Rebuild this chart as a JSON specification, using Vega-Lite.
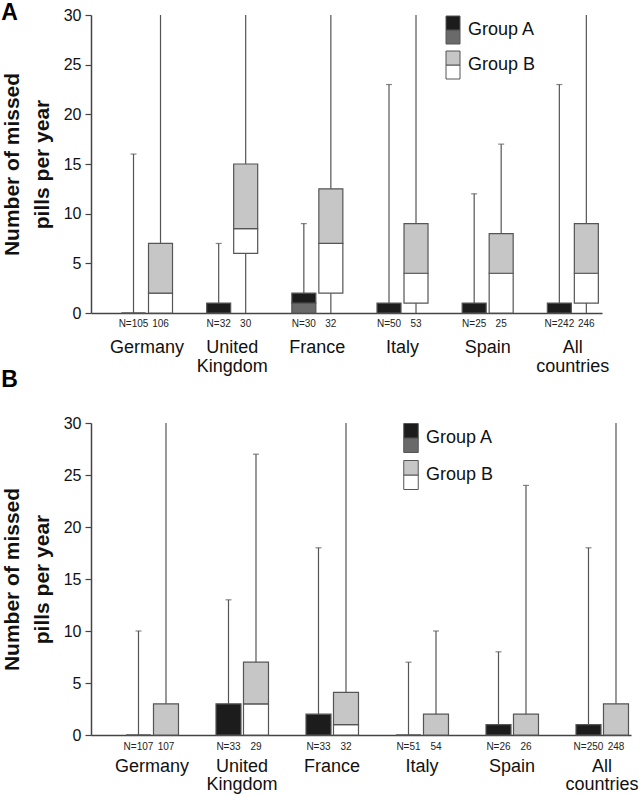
{
  "$schema": "https://vega.github.io/schema/vega-lite/v6.json",
  "background": "white",
  "padding": {"left": 1, "top": 2, "right": 4, "bottom": 0},
  "spacing": -6,
  "config": {
    "font": "Liberation Sans",
    "view": {"stroke": null},
    "axis": {"grid": false, "labelColor": "#111", "titleColor": "#111", "domainColor": "#444", "domainWidth": 1.5, "tickColor": "#444", "tickWidth": 1.2},
    "legend": {"labelColor": "#111", "labelFont": "Liberation Sans"}
  },
  "datasets": {
    "pa": [
      {"country": "Germany", "group": "Group A", "lo": 0, "q1": 0, "median": 0, "q3": 0, "max": 16, "nlab": "N=105"},
      {"country": "Germany", "group": "Group B", "lo": 0, "q1": 0, "median": 2, "q3": 7, "max": 30, "nlab": "106"},
      {"country": "United Kingdom", "group": "Group A", "lo": 0, "q1": 0, "median": 0, "q3": 1, "max": 7, "nlab": "N=32"},
      {"country": "United Kingdom", "group": "Group B", "lo": 0, "q1": 6, "median": 8.5, "q3": 15, "max": 30, "nlab": "30"},
      {"country": "France", "group": "Group A", "lo": 0, "q1": 0, "median": 1, "q3": 2, "max": 9, "nlab": "N=30"},
      {"country": "France", "group": "Group B", "lo": 0, "q1": 2, "median": 7, "q3": 12.5, "max": 30, "nlab": "32"},
      {"country": "Italy", "group": "Group A", "lo": 0, "q1": 0, "median": 0, "q3": 1, "max": 23, "nlab": "N=50"},
      {"country": "Italy", "group": "Group B", "lo": 0, "q1": 1, "median": 4, "q3": 9, "max": 30, "nlab": "53"},
      {"country": "Spain", "group": "Group A", "lo": 0, "q1": 0, "median": 0, "q3": 1, "max": 12, "nlab": "N=25"},
      {"country": "Spain", "group": "Group B", "lo": 0, "q1": 0, "median": 4, "q3": 8, "max": 17, "nlab": "25"},
      {"country": "All countries", "group": "Group A", "lo": 0, "q1": 0, "median": 0, "q3": 1, "max": 23, "nlab": "N=242"},
      {"country": "All countries", "group": "Group B", "lo": 0, "q1": 1, "median": 4, "q3": 9, "max": 30, "nlab": "246"}
    ],
    "pb": [
      {"country": "Germany", "group": "Group A", "lo": 0, "q1": 0, "median": 0, "q3": 0, "max": 10, "nlab": "N=107"},
      {"country": "Germany", "group": "Group B", "lo": 0, "q1": 0, "median": 0, "q3": 3, "max": 30, "nlab": "107"},
      {"country": "United Kingdom", "group": "Group A", "lo": 0, "q1": 0, "median": 0, "q3": 3, "max": 13, "nlab": "N=33"},
      {"country": "United Kingdom", "group": "Group B", "lo": 0, "q1": 0, "median": 3, "q3": 7, "max": 27, "nlab": "29"},
      {"country": "France", "group": "Group A", "lo": 0, "q1": 0, "median": 0, "q3": 2, "max": 18, "nlab": "N=33"},
      {"country": "France", "group": "Group B", "lo": 0, "q1": 0, "median": 1, "q3": 4.1, "max": 30, "nlab": "32"},
      {"country": "Italy", "group": "Group A", "lo": 0, "q1": 0, "median": 0, "q3": 0, "max": 7, "nlab": "N=51"},
      {"country": "Italy", "group": "Group B", "lo": 0, "q1": 0, "median": 0, "q3": 2, "max": 10, "nlab": "54"},
      {"country": "Spain", "group": "Group A", "lo": 0, "q1": 0, "median": 0, "q3": 1, "max": 8, "nlab": "N=26"},
      {"country": "Spain", "group": "Group B", "lo": 0, "q1": 0, "median": 0, "q3": 2, "max": 24, "nlab": "26"},
      {"country": "All countries", "group": "Group A", "lo": 0, "q1": 0, "median": 0, "q3": 1, "max": 18, "nlab": "N=250"},
      {"country": "All countries", "group": "Group B", "lo": 0, "q1": 0, "median": 0, "q3": 3, "max": 30, "nlab": "248"}
    ]
  },
  "resolve": {
    "scale": {"x": "independent", "y": "independent", "xOffset": "independent", "color": "independent", "fill": "independent"},
    "legend": {"color": "independent", "fill": "independent"}
  },
  "vconcat": [
    {
      "title": {"text": "A", "anchor": "start", "frame": "bounds", "fontSize": 23, "fontWeight": "bold", "color": "#000", "offset": 0, "dy": 18},
      "width": 511,
      "height": 298,
      "data": {"name": "pa"},
      "encoding": {
        "x": {"field": "country", "type": "nominal", "sort": ["Germany", "United Kingdom", "France", "Italy", "Spain", "All countries"],
          "scale": {"paddingInner": 0, "paddingOuter": 0},
          "axis": {"title": null, "ticks": false, "labelAngle": 0, "labelFontSize": 18, "labelPadding": 25, "labelOffset": 13.4, "labelLineHeight": 19,
            "labelExpr": "datum.label == 'United Kingdom' ? ['United', 'Kingdom'] : datum.label == 'All countries' ? ['All', 'countries'] : datum.label"}},
        "xOffset": {"field": "group", "type": "nominal", "scale": {"domain": ["Group A", "Group B"], "paddingInner": 0.111, "paddingOuter": 0.6326, "align": 0.893}}
      },
      "layer": [
        {
          "mark": {"type": "rule", "color": "#555", "strokeWidth": 1.2},
          "encoding": {
            "y": {"field": "lo", "type": "quantitative", "scale": {"domain": [0, 30], "nice": false},
              "axis": {"values": [0, 5, 10, 15, 20, 25, 30], "title": ["Number of missed", "pills per year"], "titleFontSize": 21, "titleFontWeight": "bold", "titleLineHeight": 30, "titlePadding": 11, "labelFontSize": 16, "labelPadding": 4, "tickSize": 6}},
            "y2": {"field": "max"}
          }
        },
        {
          "transform": [{"filter": "datum.max < 30"}],
          "mark": {"type": "tick", "color": "#555", "size": 6, "thickness": 1.2, "orient": "horizontal"},
          "encoding": {"y": {"field": "max", "type": "quantitative"}}
        },
        {
          "mark": {"type": "bar", "stroke": "#555", "strokeWidth": 1.2},
          "encoding": {
            "y": {"field": "q1", "type": "quantitative"},
            "y2": {"field": "median"},
            "color": {"field": "group", "type": "nominal", "scale": {"domain": ["Group A", "Group B"], "range": ["#6a6a6a", "#ffffff"]},
              "legend": {"orient": "none", "legendX": 353, "legendY": 6, "title": null, "symbolType": "M-1,0H1V2H-1ZM-1,-2", "symbolSize": 196, "symbolStrokeColor": "#555", "symbolStrokeWidth": 1, "symbolOpacity": 1, "labelFontSize": 18, "labelOffset": 6, "labelOpacity": 0, "rowPadding": 3, "padding": 0}}
          }
        },
        {
          "mark": {"type": "bar", "stroke": "#555", "strokeWidth": 1.2},
          "encoding": {
            "y": {"field": "median", "type": "quantitative"},
            "y2": {"field": "q3"},
            "fill": {"field": "group", "type": "nominal", "scale": {"range": ["#1c1c1c", "#c6c6c6"]},
              "legend": {"orient": "none", "legendX": 353, "legendY": 6, "title": null, "symbolType": "M-1,-2H1V0H-1ZM-1,2", "symbolSize": 196, "symbolStrokeColor": "#555", "symbolStrokeWidth": 1, "symbolOpacity": 1, "labelFontSize": 18, "labelOffset": 6, "rowPadding": 3, "padding": 0}}
          }
        },
        {
          "mark": {"type": "text", "fontSize": 10, "color": "#222", "dy": 14, "baseline": "alphabetic"},
          "encoding": {"y": {"datum": 0, "type": "quantitative"}, "text": {"field": "nlab"}}
        }
      ]
    },
    {
      "title": {"text": "B", "anchor": "start", "frame": "bounds", "fontSize": 23, "fontWeight": "bold", "color": "#000", "offset": 0, "dy": -23},
      "width": 540,
      "height": 312,
      "data": {"name": "pb"},
      "encoding": {
        "x": {"field": "country", "type": "nominal", "sort": ["Germany", "United Kingdom", "France", "Italy", "Spain", "All countries"],
          "scale": {"paddingInner": 0, "paddingOuter": 0},
          "axis": {"title": null, "ticks": false, "labelAngle": 0, "labelFontSize": 18, "labelPadding": 22, "labelOffset": 16, "labelLineHeight": 18.5,
            "labelExpr": "datum.label == 'United Kingdom' ? ['United', 'Kingdom'] : datum.label == 'All countries' ? ['All', 'countries'] : datum.label"}},
        "xOffset": {"field": "group", "type": "nominal", "scale": {"domain": ["Group A", "Group B"], "paddingInner": 0.0909, "paddingOuter": 0.682, "align": 0.933}}
      },
      "layer": [
        {
          "mark": {"type": "rule", "color": "#555", "strokeWidth": 1.2},
          "encoding": {
            "y": {"field": "lo", "type": "quantitative", "scale": {"domain": [0, 30], "nice": false},
              "axis": {"values": [0, 5, 10, 15, 20, 25, 30], "title": ["Number of missed", "pills per year"], "titleFontSize": 21, "titleFontWeight": "bold", "titleLineHeight": 30, "titlePadding": 11, "labelFontSize": 16, "labelPadding": 4, "tickSize": 6}},
            "y2": {"field": "max"}
          }
        },
        {
          "transform": [{"filter": "datum.max < 30"}],
          "mark": {"type": "tick", "color": "#555", "size": 6, "thickness": 1.2, "orient": "horizontal"},
          "encoding": {"y": {"field": "max", "type": "quantitative"}}
        },
        {
          "mark": {"type": "bar", "stroke": "#555", "strokeWidth": 1.2},
          "encoding": {
            "y": {"field": "q1", "type": "quantitative"},
            "y2": {"field": "median"},
            "color": {"field": "group", "type": "nominal", "scale": {"domain": ["Group A", "Group B"], "range": ["#6a6a6a", "#ffffff"]},
              "legend": {"orient": "none", "legendX": 311, "legendY": 6, "title": null, "symbolType": "M-1,0H1V2H-1ZM-1,-2", "symbolSize": 210, "symbolStrokeColor": "#555", "symbolStrokeWidth": 1, "symbolOpacity": 1, "labelFontSize": 18, "labelOffset": 6, "labelOpacity": 0, "rowPadding": 3, "padding": 0}}
          }
        },
        {
          "mark": {"type": "bar", "stroke": "#555", "strokeWidth": 1.2},
          "encoding": {
            "y": {"field": "median", "type": "quantitative"},
            "y2": {"field": "q3"},
            "fill": {"field": "group", "type": "nominal", "scale": {"range": ["#1c1c1c", "#c6c6c6"]},
              "legend": {"orient": "none", "legendX": 311, "legendY": 6, "title": null, "symbolType": "M-1,-2H1V0H-1ZM-1,2", "symbolSize": 210, "symbolStrokeColor": "#555", "symbolStrokeWidth": 1, "symbolOpacity": 1, "labelFontSize": 18, "labelOffset": 6, "rowPadding": 3, "padding": 0}}
          }
        },
        {
          "mark": {"type": "text", "fontSize": 10, "color": "#222", "dy": 15, "baseline": "alphabetic"},
          "encoding": {"y": {"datum": 0, "type": "quantitative"}, "text": {"field": "nlab"}}
        }
      ]
    }
  ]
}
